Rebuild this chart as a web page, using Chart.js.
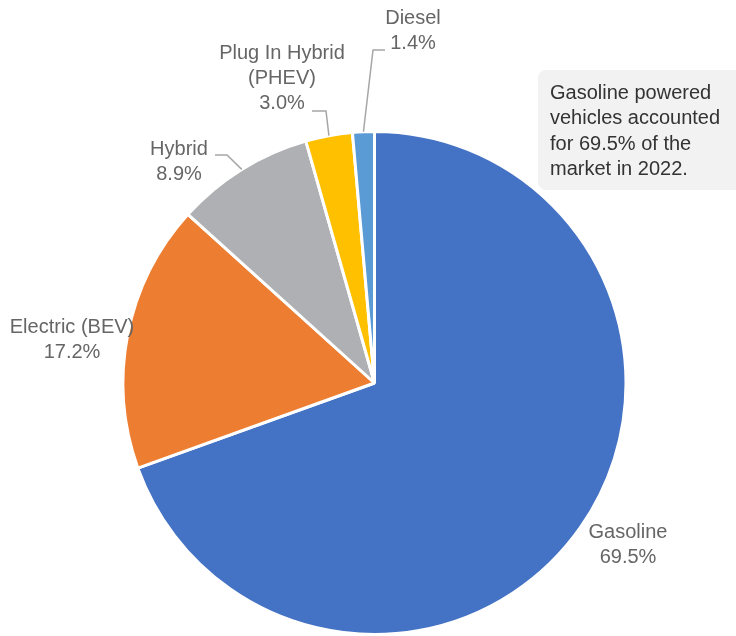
<!DOCTYPE html>
<html>
<head>
<meta charset="utf-8">
<script src="https://cdn.jsdelivr.net/npm/chart.js@4.4.1/dist/chart.umd.min.js"></script>
<style>
  html, body { margin: 0; padding: 0; background: #fff; }
  #wrap { width: 736px; height: 636px; }
</style>
</head>
<body>
<div id="wrap"><canvas id="pie" width="736" height="636"></canvas></div>
<script>
// data
const categories = ["Gasoline", "Electric (BEV)", "Hybrid", "Plug In Hybrid (PHEV)", "Diesel"];
const shares = [69.5, 17.2, 8.9, 3.0, 1.4];
const colors = ["#4472C4", "#ED7D31", "#AFB0B3", "#FFC000", "#5B9BD5"];
const note = ["Gasoline powered", "vehicles accounted", "for 69.5% of the", "market in 2022."];

// label layout: text lines, anchor, optional leader elbow
const labelLayout = [
  { lines: ["Gasoline"], x: 628, y: 532 },
  { lines: ["Electric (BEV)"], x: 72, y: 327 },
  { lines: ["Hybrid"], x: 179, y: 149, elbow: [[227, 155], [215, 155]] },
  { lines: ["Plug In Hybrid", "(PHEV)"], x: 282, y: 53, elbow: [[326, 111], [312, 111]] },
  { lines: ["Diesel"], x: 413, y: 18, elbow: [[373, 50], [385, 50]] }
];

const labelFont = '20px "Liberation Sans", Arial, sans-serif';

const labelPlugin = {
  id: "labels",
  afterDraw(chart) {
    const ctx = chart.ctx;
    const meta = chart.getDatasetMeta(0);
    ctx.save();
    meta.data.forEach((arc, i) => {
      const lay = labelLayout[i];
      const p = arc.getProps(["x", "y", "startAngle", "endAngle", "outerRadius"]);
      if (lay.elbow) {
        const mid = (p.startAngle + p.endAngle) / 2;
        ctx.beginPath();
        ctx.moveTo(p.x + Math.cos(mid) * p.outerRadius, p.y + Math.sin(mid) * p.outerRadius);
        lay.elbow.forEach(pt => ctx.lineTo(pt[0], pt[1]));
        ctx.strokeStyle = "#A6A6A6";
        ctx.lineWidth = 1.5;
        ctx.stroke();
      }
      ctx.fillStyle = "#666666";
      ctx.font = labelFont;
      ctx.textAlign = "center";
      ctx.textBaseline = "middle";
      const lines = lay.lines.concat([shares[i].toFixed(1) + "%"]);
      lines.forEach((t, k) => ctx.fillText(t, lay.x, lay.y + k * 25));
    });

    // note box
    ctx.beginPath();
    ctx.roundRect(538, 70, 210, 120, 8);
    ctx.fillStyle = "#F2F2F2";
    ctx.fill();
    ctx.fillStyle = "#333333";
    ctx.font = '20px "Liberation Sans", Arial, sans-serif';
    ctx.textAlign = "left";
    ctx.textBaseline = "middle";
    note.forEach((t, k) => ctx.fillText(t, 550, 93 + k * 25.5));
    ctx.restore();
  }
};

new Chart(document.getElementById("pie"), {
  type: "pie",
  data: {
    labels: categories,
    datasets: [{
      data: shares,
      backgroundColor: colors,
      borderColor: "#ffffff",
      borderWidth: 3
    }]
  },
  options: {
    responsive: false,
    animation: false,
    layout: { padding: { top: 130, bottom: 0, left: 121, right: 108 } },
    plugins: {
      legend: { display: false },
      tooltip: { enabled: false }
    }
  },
  plugins: [labelPlugin]
});
</script>
</body>
</html>
